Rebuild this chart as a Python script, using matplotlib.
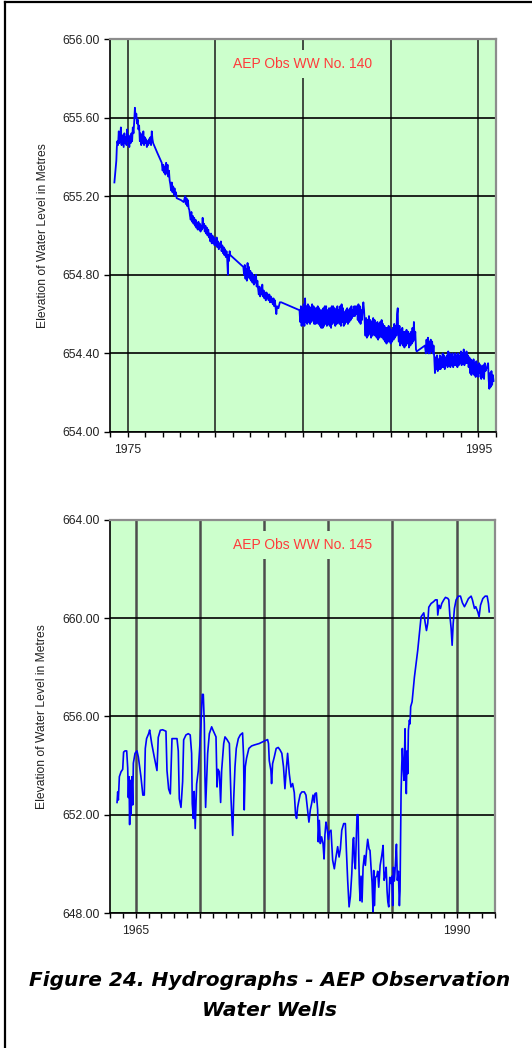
import numpy as np
import matplotlib
matplotlib.use("Agg")
import matplotlib.pyplot as plt
from matplotlib.ticker import MultipleLocator, FixedLocator, FixedFormatter
from matplotlib.lines import Line2D

plt.rcParams['font.family'] = ['Liberation Sans', 'DejaVu Sans']

# --- data (decimal year, water level in m) ---
well140 = [
    (1974.25, 655.27), (1974.28, 655.30), (1974.32, 655.34), (1974.36, 655.38), (1974.39, 655.45),
    (1974.42, 655.48), (1974.46, 655.46), (1974.50, 655.53), (1974.54, 655.47), (1974.58, 655.50),
    (1974.62, 655.55), (1974.66, 655.46), (1974.70, 655.51), (1974.74, 655.48), (1974.78, 655.45),
    (1974.82, 655.52), (1974.86, 655.47), (1974.90, 655.50), (1974.94, 655.46), (1974.98, 655.54),
    (1975.02, 655.48), (1975.06, 655.51), (1975.10, 655.45), (1975.14, 655.50), (1975.18, 655.47),
    (1975.22, 655.52), (1975.26, 655.48), (1975.30, 655.55), (1975.34, 655.52), (1975.38, 655.58),
    (1975.42, 655.65), (1975.46, 655.60), (1975.50, 655.62), (1975.54, 655.57), (1975.58, 655.59),
    (1975.62, 655.54), (1975.66, 655.56), (1975.70, 655.48), (1975.74, 655.52), (1975.78, 655.46),
    (1975.82, 655.51), (1975.86, 655.47), (1975.90, 655.53), (1975.94, 655.46), (1975.98, 655.50),
    (1976.02, 655.47), (1976.06, 655.49), (1976.10, 655.45), (1976.14, 655.48), (1976.18, 655.46),
    (1976.22, 655.49), (1976.26, 655.47), (1976.30, 655.50), (1976.34, 655.46), (1976.38, 655.53),
    (1976.42, 655.49), (1976.46, 655.47), (1976.70, 655.42), (1976.95, 655.37), (1977.00, 655.33),
    (1977.04, 655.36), (1977.08, 655.32), (1977.12, 655.35), (1977.16, 655.31), (1977.20, 655.37),
    (1977.24, 655.32), (1977.28, 655.36), (1977.32, 655.30), (1977.36, 655.33), (1977.40, 655.28),
    (1977.44, 655.26), (1977.48, 655.23), (1977.52, 655.27), (1977.56, 655.22), (1977.60, 655.25),
    (1977.64, 655.21), (1977.68, 655.24), (1977.72, 655.20), (1977.76, 655.22), (1977.80, 655.19),
    (1978.05, 655.18), (1978.20, 655.17), (1978.28, 655.20), (1978.32, 655.16), (1978.36, 655.19),
    (1978.40, 655.15), (1978.44, 655.18), (1978.48, 655.14), (1978.52, 655.13), (1978.56, 655.10),
    (1978.60, 655.08), (1978.64, 655.12), (1978.68, 655.07), (1978.72, 655.10), (1978.76, 655.06),
    (1978.80, 655.09), (1978.84, 655.05), (1978.88, 655.08), (1978.92, 655.04), (1978.96, 655.06),
    (1979.00, 655.03), (1979.04, 655.07), (1979.08, 655.03), (1979.12, 655.06), (1979.16, 655.02),
    (1979.20, 655.05), (1979.24, 655.03), (1979.28, 655.09), (1979.32, 655.04), (1979.36, 655.06),
    (1979.40, 655.02), (1979.44, 655.05), (1979.48, 655.01), (1979.52, 655.04), (1979.56, 655.00),
    (1979.60, 655.03), (1979.64, 654.99), (1979.68, 655.01), (1979.72, 654.97), (1979.76, 655.01),
    (1979.80, 654.96), (1979.84, 655.00), (1979.88, 654.96), (1979.92, 654.99), (1979.96, 654.95),
    (1980.00, 654.98), (1980.04, 654.95), (1980.08, 654.99), (1980.12, 654.94), (1980.16, 654.97),
    (1980.20, 654.93), (1980.24, 654.96), (1980.28, 654.94), (1980.32, 654.97), (1980.36, 654.92),
    (1980.40, 654.95), (1980.44, 654.91), (1980.48, 654.94), (1980.52, 654.90), (1980.56, 654.93),
    (1980.60, 654.89), (1980.64, 654.92), (1980.68, 654.88), (1980.72, 654.80), (1980.74, 654.90),
    (1980.78, 654.87), (1980.82, 654.92), (1980.86, 654.90), (1981.60, 654.84), (1981.64, 654.80),
    (1981.68, 654.85), (1981.72, 654.78), (1981.76, 654.83), (1981.80, 654.77), (1981.84, 654.86),
    (1981.88, 654.79), (1981.92, 654.84), (1981.96, 654.78), (1982.00, 654.82), (1982.04, 654.77),
    (1982.08, 654.81), (1982.12, 654.76), (1982.16, 654.80), (1982.20, 654.75), (1982.24, 654.79),
    (1982.28, 654.76), (1982.32, 654.80), (1982.36, 654.74), (1982.40, 654.77), (1982.44, 654.73),
    (1982.48, 654.70), (1982.52, 654.74), (1982.56, 654.69), (1982.60, 654.73), (1982.64, 654.70),
    (1982.68, 654.75), (1982.72, 654.69), (1982.76, 654.72), (1982.80, 654.68), (1982.84, 654.71),
    (1982.88, 654.67), (1982.92, 654.71), (1982.96, 654.68), (1983.00, 654.70), (1983.04, 654.67),
    (1983.08, 654.70), (1983.12, 654.66), (1983.16, 654.69), (1983.20, 654.66), (1983.24, 654.68),
    (1983.28, 654.65), (1983.32, 654.68), (1983.36, 654.64), (1983.40, 654.67), (1983.44, 654.63),
    (1983.48, 654.60), (1983.52, 654.64), (1983.60, 654.63), (1983.68, 654.66), (1983.76, 654.66),
    (1984.80, 654.62), (1984.84, 654.56), (1984.88, 654.64), (1984.92, 654.54), (1984.96, 654.63),
    (1985.00, 654.55), (1985.04, 654.65), (1985.08, 654.54), (1985.12, 654.68), (1985.16, 654.56),
    (1985.20, 654.64), (1985.24, 654.55), (1985.28, 654.65), (1985.32, 654.56), (1985.36, 654.64),
    (1985.40, 654.55), (1985.44, 654.63), (1985.48, 654.56), (1985.52, 654.65), (1985.56, 654.57),
    (1985.60, 654.64), (1985.64, 654.55), (1985.68, 654.63), (1985.72, 654.55), (1985.76, 654.63),
    (1985.80, 654.56), (1985.84, 654.64), (1985.88, 654.55), (1985.92, 654.63), (1985.96, 654.54),
    (1986.00, 654.62), (1986.04, 654.53), (1986.08, 654.62), (1986.12, 654.53), (1986.16, 654.63),
    (1986.20, 654.54), (1986.24, 654.64), (1986.28, 654.55), (1986.32, 654.64), (1986.36, 654.54),
    (1986.40, 654.62), (1986.44, 654.55), (1986.48, 654.63), (1986.52, 654.54), (1986.56, 654.63),
    (1986.60, 654.53), (1986.64, 654.64), (1986.68, 654.55), (1986.72, 654.64), (1986.76, 654.56),
    (1986.80, 654.63), (1986.84, 654.54), (1986.88, 654.62), (1986.92, 654.55), (1986.96, 654.64),
    (1987.00, 654.56), (1987.04, 654.62), (1987.08, 654.55), (1987.12, 654.64), (1987.16, 654.54),
    (1987.20, 654.65), (1987.24, 654.56), (1987.28, 654.63), (1987.32, 654.54), (1987.36, 654.61),
    (1987.40, 654.55), (1987.44, 654.62), (1987.48, 654.56), (1987.52, 654.63), (1987.56, 654.55),
    (1987.60, 654.62), (1987.64, 654.56), (1987.68, 654.63), (1987.72, 654.57), (1987.76, 654.64),
    (1987.80, 654.58), (1987.84, 654.62), (1987.88, 654.59), (1987.92, 654.64), (1987.96, 654.59),
    (1988.00, 654.64), (1988.04, 654.60), (1988.08, 654.64), (1988.12, 654.57), (1988.16, 654.65),
    (1988.20, 654.56), (1988.24, 654.64), (1988.28, 654.55), (1988.32, 654.62), (1988.36, 654.57),
    (1988.40, 654.63), (1988.44, 654.66), (1988.48, 654.62), (1988.52, 654.55), (1988.56, 654.49),
    (1988.60, 654.58), (1988.64, 654.48), (1988.68, 654.57), (1988.72, 654.49), (1988.76, 654.59),
    (1988.80, 654.50), (1988.84, 654.57), (1988.88, 654.48), (1988.92, 654.56), (1988.96, 654.49),
    (1989.00, 654.58), (1989.04, 654.50), (1989.08, 654.57), (1989.12, 654.49), (1989.16, 654.55),
    (1989.20, 654.48), (1989.24, 654.56), (1989.28, 654.47), (1989.32, 654.55), (1989.36, 654.48),
    (1989.40, 654.56), (1989.44, 654.49), (1989.48, 654.57), (1989.52, 654.48), (1989.56, 654.55),
    (1989.60, 654.47), (1989.64, 654.54), (1989.68, 654.46), (1989.72, 654.53), (1989.76, 654.45),
    (1989.80, 654.53), (1989.84, 654.46), (1989.88, 654.54), (1989.92, 654.46), (1989.96, 654.53),
    (1990.00, 654.45), (1990.04, 654.52), (1990.08, 654.46), (1990.12, 654.53), (1990.16, 654.47),
    (1990.20, 654.55), (1990.24, 654.48), (1990.28, 654.54), (1990.32, 654.49), (1990.36, 654.60),
    (1990.40, 654.63), (1990.42, 654.52), (1990.46, 654.46), (1990.50, 654.54), (1990.54, 654.44),
    (1990.58, 654.52), (1990.62, 654.45), (1990.66, 654.53), (1990.70, 654.44), (1990.74, 654.51),
    (1990.78, 654.43), (1990.82, 654.51), (1990.86, 654.44), (1990.90, 654.52), (1990.94, 654.45),
    (1991.00, 654.51), (1991.04, 654.43), (1991.08, 654.50), (1991.12, 654.44), (1991.16, 654.51),
    (1991.20, 654.45), (1991.24, 654.53), (1991.28, 654.46), (1991.32, 654.56), (1991.36, 654.47),
    (1991.40, 654.51), (1991.44, 654.42), (1991.48, 654.41), (1991.95, 654.44), (1992.00, 654.40),
    (1992.04, 654.47), (1992.08, 654.41), (1992.12, 654.48), (1992.16, 654.40), (1992.20, 654.46),
    (1992.24, 654.40), (1992.28, 654.47), (1992.32, 654.41), (1992.36, 654.46), (1992.40, 654.40),
    (1992.44, 654.44), (1992.48, 654.38), (1992.52, 654.30), (1992.56, 654.38), (1992.60, 654.32),
    (1992.64, 654.39), (1992.68, 654.31), (1992.72, 654.37), (1992.76, 654.32), (1992.80, 654.39),
    (1992.84, 654.32), (1992.88, 654.38), (1992.92, 654.33), (1992.96, 654.40), (1993.00, 654.33),
    (1993.04, 654.39), (1993.08, 654.32), (1993.12, 654.38), (1993.16, 654.34), (1993.20, 654.39),
    (1993.24, 654.33), (1993.28, 654.41), (1993.32, 654.34), (1993.36, 654.40), (1993.40, 654.33),
    (1993.44, 654.39), (1993.48, 654.34), (1993.52, 654.40), (1993.56, 654.33), (1993.60, 654.38),
    (1993.64, 654.34), (1993.68, 654.40), (1993.72, 654.34), (1993.76, 654.39), (1993.80, 654.33),
    (1993.84, 654.40), (1993.88, 654.34), (1993.92, 654.39), (1993.96, 654.35), (1994.00, 654.41),
    (1994.04, 654.34), (1994.08, 654.40), (1994.12, 654.35), (1994.16, 654.42), (1994.20, 654.34),
    (1994.24, 654.40), (1994.28, 654.35), (1994.32, 654.41), (1994.36, 654.35), (1994.40, 654.39),
    (1994.44, 654.33), (1994.48, 654.38), (1994.52, 654.30), (1994.56, 654.37), (1994.60, 654.29),
    (1994.64, 654.36), (1994.68, 654.30), (1994.72, 654.37), (1994.76, 654.29), (1994.80, 654.35),
    (1994.84, 654.28), (1994.88, 654.36), (1994.92, 654.29), (1994.96, 654.34), (1995.00, 654.28),
    (1995.04, 654.35), (1995.08, 654.30), (1995.12, 654.34), (1995.16, 654.27), (1995.20, 654.33),
    (1995.24, 654.28), (1995.28, 654.34), (1995.32, 654.27), (1995.36, 654.35), (1995.40, 654.31),
    (1995.48, 654.33), (1995.55, 654.35), (1995.58, 654.27), (1995.62, 654.22), (1995.66, 654.30),
    (1995.70, 654.23), (1995.74, 654.31), (1995.78, 654.24), (1995.82, 654.29), (1995.86, 654.26),
]

well145 = [
    (1963.55, 652.50), (1963.60, 652.93), (1963.65, 652.60), (1963.73, 653.55), (1963.86, 653.75),
    (1963.99, 653.85), (1964.06, 654.55), (1964.17, 654.60), (1964.30, 654.60), (1964.38, 653.90),
    (1964.43, 652.70), (1964.48, 653.55), (1964.53, 651.60), (1964.58, 653.40), (1964.64, 652.00),
    (1964.71, 653.55), (1964.77, 652.40), (1964.82, 654.10), (1964.95, 654.50), (1965.10, 654.60),
    (1965.21, 654.35), (1965.41, 653.55), (1965.56, 652.80), (1965.67, 652.80), (1965.75, 654.70),
    (1965.85, 655.10), (1966.01, 655.30), (1966.09, 655.45), (1966.25, 654.90), (1966.45, 654.35),
    (1966.66, 653.80), (1966.76, 655.15), (1966.92, 655.44), (1967.10, 655.46), (1967.36, 655.40),
    (1967.44, 653.80), (1967.57, 653.05), (1967.70, 652.85), (1967.83, 655.10), (1968.01, 655.10),
    (1968.22, 655.10), (1968.32, 654.60), (1968.40, 652.65), (1968.53, 652.30), (1968.66, 653.35),
    (1968.74, 655.05), (1968.92, 655.25), (1969.10, 655.30), (1969.25, 655.25), (1969.36, 654.50),
    (1969.41, 652.45), (1969.49, 651.85), (1969.56, 652.95), (1969.64, 651.44), (1969.75, 653.25),
    (1969.88, 653.80), (1970.01, 654.90), (1970.09, 655.70), (1970.19, 656.90), (1970.27, 656.90),
    (1970.35, 655.70), (1970.40, 653.55), (1970.45, 652.30), (1970.53, 653.40), (1970.61, 654.50),
    (1970.74, 655.30), (1970.92, 655.58), (1971.03, 655.44), (1971.26, 655.17), (1971.34, 653.13),
    (1971.42, 653.85), (1971.52, 653.75), (1971.62, 652.50), (1971.70, 653.80), (1971.86, 654.90),
    (1971.96, 655.17), (1972.12, 655.06), (1972.30, 654.90), (1972.43, 652.65), (1972.56, 651.16),
    (1972.64, 652.65), (1972.74, 653.95), (1972.84, 654.70), (1973.00, 655.10), (1973.15, 655.25),
    (1973.33, 655.33), (1973.41, 654.35), (1973.46, 652.20), (1973.54, 653.95), (1973.64, 654.30),
    (1973.82, 654.70), (1974.03, 654.80), (1974.24, 654.84), (1974.63, 654.90), (1975.02, 655.00),
    (1975.28, 655.06), (1975.35, 654.90), (1975.41, 654.20), (1975.54, 653.80), (1975.59, 653.27),
    (1975.67, 654.08), (1975.80, 654.35), (1975.95, 654.70), (1976.11, 654.74), (1976.26, 654.63),
    (1976.39, 654.50), (1976.52, 653.95), (1976.63, 653.06), (1976.73, 653.80), (1976.84, 654.50),
    (1976.97, 653.67), (1977.10, 653.13), (1977.23, 653.27), (1977.36, 652.90), (1977.46, 652.00),
    (1977.54, 651.85), (1977.62, 652.30), (1977.69, 652.50), (1977.82, 652.83), (1977.95, 652.93),
    (1978.14, 652.93), (1978.27, 652.80), (1978.40, 652.20), (1978.50, 651.70), (1978.61, 652.20),
    (1978.71, 652.45), (1978.82, 652.80), (1978.92, 652.50), (1978.97, 652.86), (1979.08, 652.89),
    (1979.18, 652.20), (1979.23, 650.90), (1979.31, 651.77), (1979.39, 650.83), (1979.49, 651.10),
    (1979.60, 650.83), (1979.68, 650.20), (1979.75, 651.20), (1979.83, 651.70), (1979.91, 651.50),
    (1980.02, 651.00), (1980.09, 651.30), (1980.22, 651.37), (1980.35, 650.15), (1980.48, 649.80),
    (1980.61, 650.28), (1980.74, 650.70), (1980.85, 650.28), (1980.95, 650.60), (1981.06, 651.37),
    (1981.21, 651.64), (1981.34, 651.64), (1981.42, 650.55), (1981.52, 649.33), (1981.63, 648.25),
    (1981.73, 648.67), (1981.84, 649.60), (1981.94, 651.00), (1981.99, 651.07), (1982.05, 650.07),
    (1982.12, 649.80), (1982.20, 651.10), (1982.25, 652.00), (1982.33, 652.00), (1982.38, 650.40),
    (1982.43, 649.20), (1982.49, 648.50), (1982.56, 649.50), (1982.64, 648.45), (1982.72, 649.86),
    (1982.82, 650.34), (1982.90, 649.94), (1983.00, 650.60), (1983.08, 651.00), (1983.19, 650.60),
    (1983.26, 650.55), (1983.34, 649.86), (1983.42, 649.25), (1983.50, 647.97), (1983.55, 649.73),
    (1983.60, 648.30), (1983.68, 649.45), (1983.79, 649.50), (1983.86, 649.70), (1983.94, 649.05),
    (1984.05, 649.94), (1984.18, 650.35), (1984.28, 650.75), (1984.36, 649.33), (1984.44, 649.50),
    (1984.52, 649.86), (1984.59, 648.90), (1984.65, 648.45), (1984.72, 648.25), (1984.80, 649.45),
    (1984.90, 649.20), (1984.96, 649.50), (1985.03, 648.30), (1985.08, 649.86), (1985.16, 649.30),
    (1985.24, 650.00), (1985.32, 650.80), (1985.39, 649.33), (1985.47, 649.70), (1985.55, 648.30),
    (1985.60, 648.90), (1985.68, 652.86), (1985.73, 653.95), (1985.78, 654.70), (1985.86, 653.80),
    (1985.91, 653.40), (1985.99, 655.50), (1986.04, 653.55), (1986.09, 652.86), (1986.15, 654.60),
    (1986.20, 653.67), (1986.25, 655.44), (1986.33, 655.85), (1986.38, 655.70), (1986.43, 656.40),
    (1986.54, 656.60), (1986.72, 657.60), (1986.98, 658.70), (1987.24, 660.06), (1987.45, 660.22),
    (1987.55, 659.85), (1987.66, 659.50), (1987.76, 659.80), (1987.84, 660.45), (1988.02, 660.60),
    (1988.20, 660.67), (1988.36, 660.75), (1988.49, 660.75), (1988.54, 660.13), (1988.64, 660.53),
    (1988.75, 660.40), (1988.85, 660.60), (1989.01, 660.75), (1989.14, 660.85), (1989.32, 660.81),
    (1989.40, 660.75), (1989.48, 660.13), (1989.58, 659.60), (1989.66, 658.90), (1989.74, 659.77),
    (1989.84, 660.40), (1989.97, 660.75), (1990.15, 660.90), (1990.31, 660.90), (1990.46, 660.63),
    (1990.62, 660.47), (1990.75, 660.60), (1990.93, 660.80), (1991.14, 660.90), (1991.24, 660.75),
    (1991.40, 660.40), (1991.50, 660.47), (1991.66, 660.26), (1991.76, 660.06), (1991.87, 660.53),
    (1992.05, 660.80), (1992.23, 660.90), (1992.39, 660.90), (1992.49, 660.60), (1992.55, 660.26),
]

panels = [
    dict(data=well140, title='AEP Obs WW No. 140', xlim=(1974, 1996), ylim=(654.0, 656.0),
         ystep=0.4, labelled=[1975, 1995], rect=[110 / 532, 1 - 432 / 1048, 386 / 532, 393 / 1048]),
    dict(data=well145, title='AEP Obs WW No. 145', xlim=(1963, 1993), ylim=(648.0, 664.0),
         ystep=4.0, labelled=[1965, 1990], rect=[110 / 532, 1 - 913 / 1048, 385 / 532, 393 / 1048]),
]

bg = '#ccffcc'
fig = plt.figure(figsize=(5.32, 10.48), dpi=100)

for i, p in enumerate(panels):
    ax = fig.add_axes(p['rect'])
    yrs = [d[0] for d in p['data']]
    lev = [d[1] for d in p['data']]
    ax.set_facecolor(bg)
    ax.set_axisbelow(True)
    ax.plot(yrs, lev, color='#0000ff', lw=1.3 if i == 0 else 1.2, zorder=2)
    ax.set_xlim(*p['xlim'])
    ax.set_ylim(*p['ylim'])

    majors = list(range(p['xlim'][0] + (5 - p['xlim'][0] % 5) % 5, p['xlim'][1] + 1, 5))
    ax.xaxis.set_major_locator(FixedLocator(majors))
    ax.xaxis.set_major_formatter(FixedFormatter([str(m) if m in p['labelled'] else '' for m in majors]))
    ax.xaxis.set_minor_locator(MultipleLocator(1))
    ax.yaxis.set_major_locator(MultipleLocator(p['ystep']))
    ax.yaxis.set_major_formatter(matplotlib.ticker.FormatStrFormatter('%.2f'))

    ax.tick_params(axis='both', which='both', direction='out', color='black', labelcolor='#222222',
                   labelsize=8.7)
    ax.tick_params(axis='y', length=4.3, width=1, pad=3)
    ax.tick_params(axis='x', which='major', length=3.6, width=1, pad=5)
    ax.tick_params(axis='x', which='minor', length=3.6, width=1)

    gcol = '#1a1a1a' if i == 0 else '#4d4d4d'
    glw = 1.1 if i == 0 else 1.8
    ax.grid(axis='x', which='major', color=gcol, lw=glw)
    ax.grid(axis='y', which='major', color='black', lw=1.2)

    ax.spines['left'].set_color('black')
    ax.spines['bottom'].set_color('black')
    ax.spines['left'].set_linewidth(1.2)
    ax.spines['bottom'].set_linewidth(1.2)
    for s in ('top', 'right'):
        ax.spines[s].set_color('#8c8c8c')
        ax.spines[s].set_linewidth(1.6)

    ax.set_ylabel('Elevation of Water Level in Metres', fontsize=8.7, color='#222222', labelpad=10)
    ax.text(0.5, 0.936, p['title'], transform=ax.transAxes, ha='center', va='center',
            fontsize=10, color='#ff3b3b', zorder=3,
            bbox=dict(facecolor=bg, edgecolor='none', pad=5))

fig.text(0.507, 1 - 986 / 1048, 'Figure 24. Hydrographs - AEP Observation', ha='center',
         va='baseline', fontsize=14.5, fontweight='bold', fontstyle='italic', color='black',
         family='DejaVu Sans')
fig.text(0.507, 1 - 1016.5 / 1048, 'Water Wells', ha='center', va='baseline', fontsize=14.5,
         fontweight='bold', fontstyle='italic', color='black', family='DejaVu Sans')

# page frame (left and top edges only)
fig.add_artist(Line2D([4.5 / 532, 4.5 / 532], [0, 1 - 1.5 / 1048], transform=fig.transFigure,
                      color='black', lw=1.6))
fig.add_artist(Line2D([4.5 / 532, 1], [1 - 1.5 / 1048, 1 - 1.5 / 1048], transform=fig.transFigure,
                      color='black', lw=1.6))

fig.savefig('out.png', dpi=100, facecolor='white')
